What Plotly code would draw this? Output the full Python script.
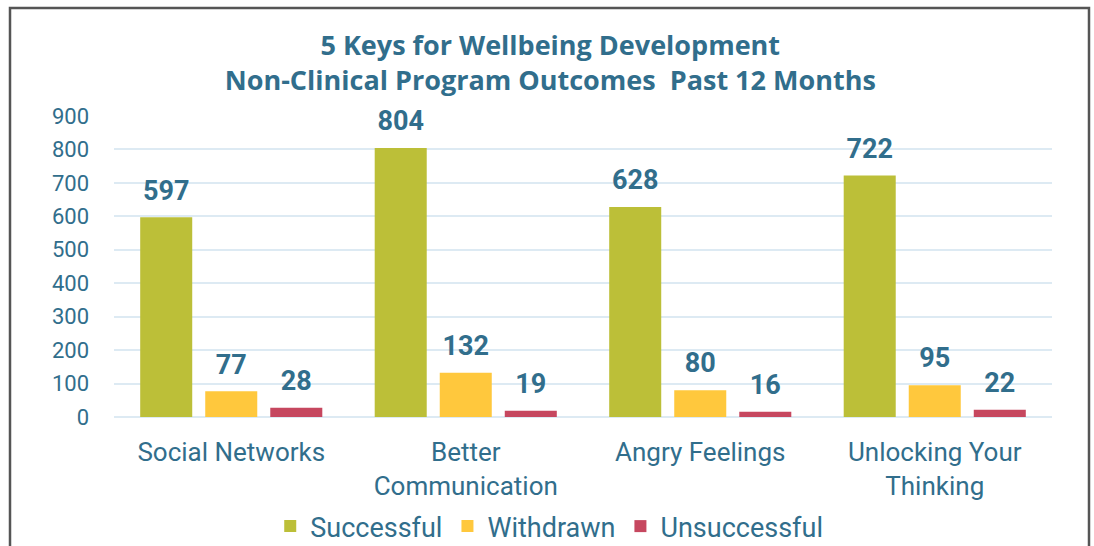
import plotly.graph_objects as go

categories = ["Social Networks", "Better<br>Communication", "Angry Feelings", "Unlocking Your<br>Thinking"]
successful = [597, 804, 628, 722]
withdrawn = [77, 132, 80, 95]
unsuccessful = [28, 19, 16, 22]

series = [
    ("Successful", successful, "#BCBF38"),
    ("Withdrawn", withdrawn, "#FFC83D"),
    ("Unsuccessful", unsuccessful, "#C6475F"),
]

blue = "#316E8C"
gap = 0.168

fig = go.Figure()
for name, vals, col in series:
    fig.add_trace(go.Bar(
        x=categories, y=vals, name=name, offsetgroup=name,
        marker=dict(color=col, line=dict(width=0)),
    ))
# value labels sit above each bar
for name, vals, col in series:
    fig.add_trace(go.Scatter(
        x=categories, y=vals, offsetgroup=name, mode="markers+text",
        marker=dict(size=16, opacity=0), showlegend=False, hoverinfo="skip",
        text=[f"<b>{v}</b>" for v in vals], textposition="top center",
        textfont=dict(family="Roboto", size=27, color=blue), cliponaxis=False,
    ))

L, R, T, B = 114, 42, 116, 129
W, H = 1094, 546
pw, ph = W - L - R, H - T - B

fig.update_layout(
    width=W, height=H,
    margin=dict(l=L, r=R, t=T, b=B, autoexpand=False),
    paper_bgcolor="white", plot_bgcolor="white",
    barmode="group", bargap=gap, bargroupgap=0.2,
    scattermode="group", scattergap=gap,
    title=dict(
        text="<b>5 Keys for Wellbeing Development<br>Non-Clinical Program Outcomes  Past 12 Months</b>",
        x=0.503, xanchor="center", y=0.90, yanchor="top",
        font=dict(family="Open Sans", size=27, color=blue),
    ),
    font=dict(family="Roboto", color=blue),
    legend=dict(
        orientation="h", x=0.464, xanchor="center", y=-0.364, yanchor="middle",
        font=dict(family="Roboto", size=27, color=blue),
        itemwidth=30, traceorder="normal",
    ),
    xaxis=dict(
        tickfont=dict(size=26, color=blue), showgrid=False, showline=False,
        ticks="", ticklabelstandoff=17,
    ),
    yaxis=dict(
        range=[0, 900], dtick=100, tickfont=dict(size=22, color=blue),
        gridcolor="#DDEAF3", gridwidth=2, zeroline=True, zerolinecolor="#DDEAF3",
        zerolinewidth=2, ticks="", ticklabelstandoff=24,
    ),
    shapes=[dict(
        type="rect", xref="paper", yref="paper",
        x0=(10 - L) / pw, x1=(1089 - L) / pw,
        y0=-1, y1=(H - B - 8) / ph,
        line=dict(color="#555555", width=2.5), fillcolor="rgba(0,0,0,0)", layer="below",
    )],
)

fig.write_html("out.html", config={"displayModeBar": False},
               post_script="document.body.style.margin='0';")
